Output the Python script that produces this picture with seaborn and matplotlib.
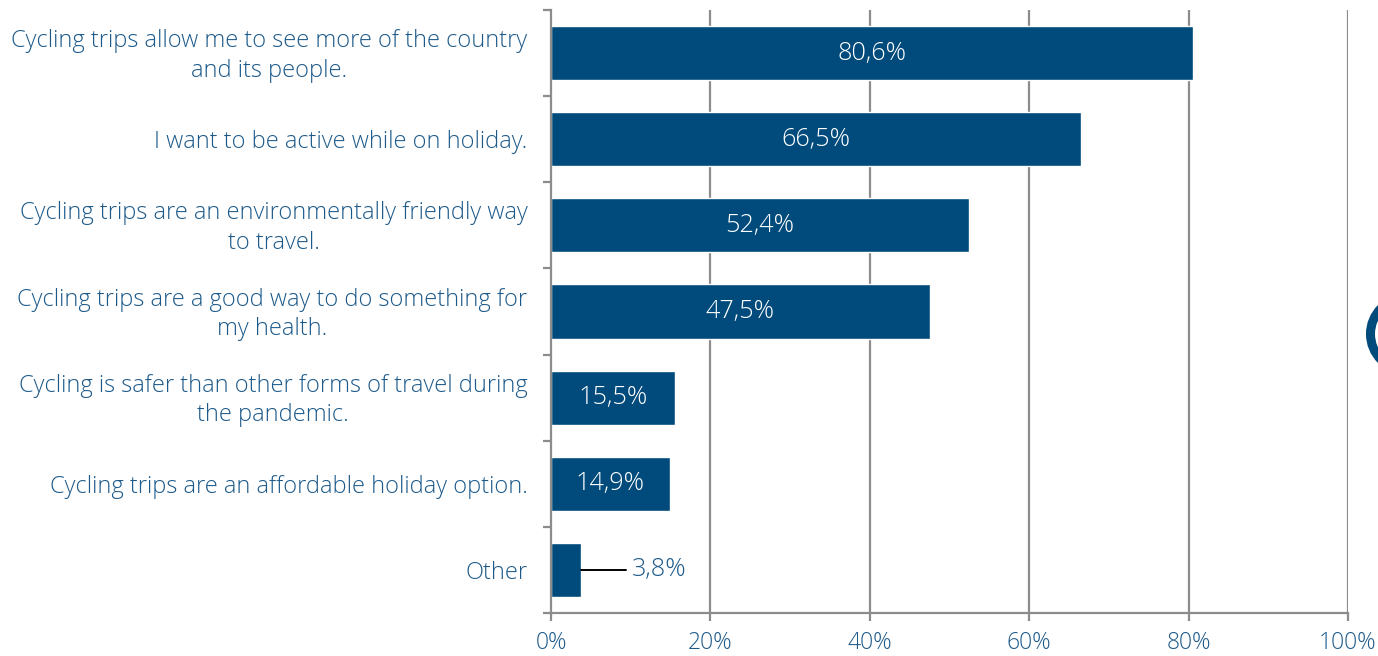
import numpy as np
import pandas as pd
import matplotlib.pyplot as plt
import matplotlib.patches as mpatches
import seaborn as sns

reasons = [
    "Cycling trips allow me to see more of the country\nand its people.",
    "I want to be active while on holiday.",
    "Cycling trips are an environmentally friendly way\nto travel.",
    "Cycling trips are a good way to do something for\nmy health.",
    "Cycling is safer than other forms of travel during\nthe pandemic.",
    "Cycling trips are an affordable holiday option.",
    "Other",
]
shares = [80.6, 66.5, 52.4, 47.5, 15.5, 14.9, 3.8]
xticks = [0, 20, 40, 60, 80, 100]

bar_color = "#004a7c"
text_color = "#1d5a8a"
grid_color = "#8c8c8c"

sns.set_theme(style="white")
plt.rcParams["font.family"] = ["Open Sans", "DejaVu Sans"]
plt.rcParams["font.weight"] = "light"

df = pd.DataFrame({"reason": reasons, "share": shares})

fig = plt.figure(figsize=(13.78, 6.56), dpi=100)
ax = fig.add_axes([0.3999, 0.0655, 0.5784, 0.9193])

sns.barplot(data=df, y="reason", x="share", orient="h", color=bar_color,
            saturation=1, width=0.63, ax=ax, zorder=3)

ax.set_xlim(0, 100)
ax.set_ylim(len(reasons) - 0.5, -0.5)
ax.set_xticks(xticks)
ax.set_xticklabels([f"{t}%" for t in xticks], color=text_color, fontsize=16.5)
ax.set_xlabel("")
ax.set_ylabel("")

# vertical grid
for t in xticks[1:]:
    ax.axvline(t, color=grid_color, lw=1.6, zorder=1)

# y tick labels, centred text block right-aligned to the axis
ax.set_yticks(range(len(reasons)))
ax.set_yticklabels([])
ax.tick_params(axis="y", length=0)
for i, r in enumerate(reasons):
    ax.annotate(r, xy=(0, i), xycoords=("axes fraction", "data"),
                xytext=(-17, -2), textcoords="offset points",
                ha="right", va="center", multialignment="center",
                color=text_color, fontsize=17, linespacing=1.3)

# boundary ticks on the left spine
ax.set_yticks(np.arange(-0.5, len(reasons)), minor=True)
ax.tick_params(axis="y", which="minor", length=6, width=1.6, color=grid_color, left=True)
ax.tick_params(axis="x", length=6, width=1.6, color=grid_color, bottom=True, pad=7)

for s in ["top", "right"]:
    ax.spines[s].set_visible(False)
for s in ["left", "bottom"]:
    ax.spines[s].set_color(grid_color)
    ax.spines[s].set_linewidth(1.6)
    ax.spines[s].set_zorder(4)

# value labels
for i, v in enumerate(shares):
    txt = f"{v:.1f}%".replace(".", ",")
    if v > 10:
        ax.text(v / 2, i, txt, ha="center", va="center", color="white",
                fontsize=18.2, zorder=5)
    else:
        ax.plot([v, v + 5.6], [i, i], color="black", lw=1.4, zorder=5)
        ax.text(v + 6.3, i, txt, ha="left", va="center", color=text_color,
                fontsize=18.2, zorder=5)

# decorative ring cut off at the right edge
ring = mpatches.Circle((14.07, 6.56 - 3.34), 0.365, transform=fig.dpi_scale_trans,
                       fill=False, ec=bar_color, lw=6.5)
fig.add_artist(ring)

fig.savefig("out.png", dpi=100)
